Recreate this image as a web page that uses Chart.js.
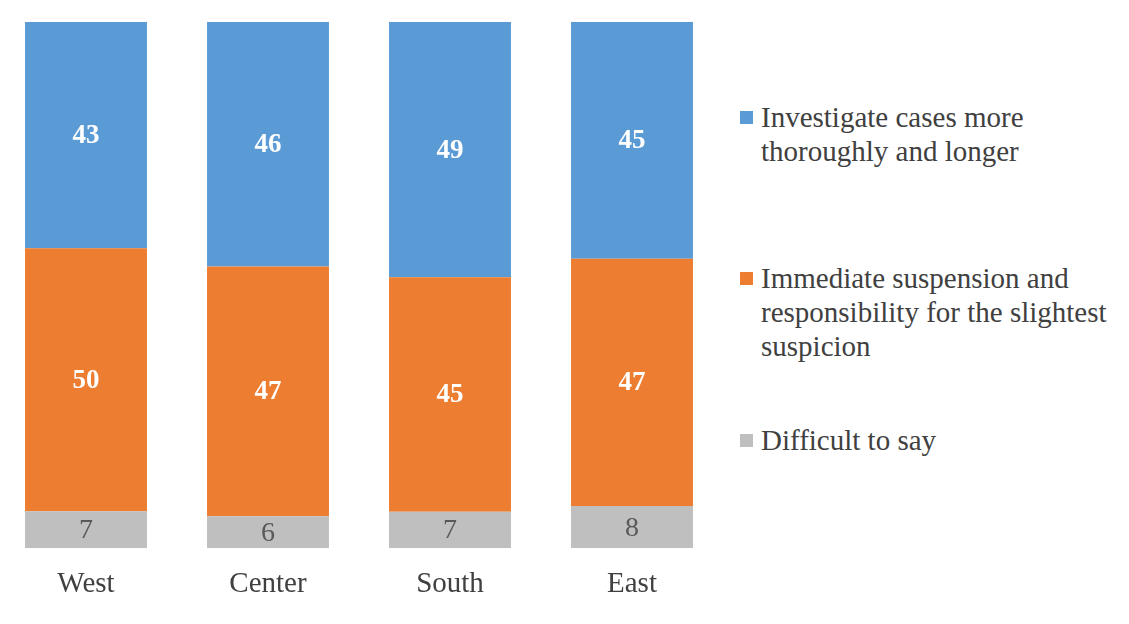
<!DOCTYPE html>
<html>
<head>
<meta charset="utf-8">
<script src="https://cdn.jsdelivr.net/npm/chart.js@4.4.0/dist/chart.umd.min.js"></script>
<style>
    body { margin: 0; background: #fff; width: 1129px; height: 624px; overflow: hidden; position: relative; }
    #chart-wrap { position: absolute; left: -5px; top: 0; width: 728px; height: 624px; }
    #legend { position: absolute; left: 740px; top: 0; width: 389px; font-family: "Liberation Serif", "Times New Roman", serif; font-size: 29px; line-height: 34px; color: #404040; }
    .legend-item { position: absolute; left: 0; width: 385px; }
    .legend-item .box { position: absolute; left: 0; top: 11px; width: 13px; height: 13px; }
    .legend-item .txt { margin-left: 21px; }
</style>
</head>
<body>
<div id="chart-wrap"><canvas id="chart"></canvas></div>
<div id="legend"></div>
<script>
const regions = ['West', 'Center', 'South', 'East'];
const difficult = [7, 6, 7, 8];
const immediate = [50, 47, 45, 47];
const investigate = [43, 46, 49, 45];

const seriesNames = [
    'Investigate cases more thoroughly and longer',
    'Immediate suspension and responsibility for the slightest suspicion',
    'Difficult to say'
];
const colors = ['#5B9BD5', '#ED7D31', '#BFBFBF'];
const legendTops = [100, 261, 423];

// 100% stacked: each bar normalised to its own total
const totals = regions.map((r, i) => difficult[i] + immediate[i] + investigate[i]);
const share = arr => arr.map((v, i) => v / totals[i] * 100);

const raw = [difficult, immediate, investigate];

const labelPlugin = {
    id: 'segmentLabels',
    afterDatasetsDraw(chart) {
        const ctx = chart.ctx;
        ctx.save();
        ctx.textAlign = 'center';
        ctx.textBaseline = 'middle';
        chart.data.datasets.forEach((ds, di) => {
            const meta = chart.getDatasetMeta(di);
            meta.data.forEach((bar, i) => {
                const y = (bar.y + bar.base) / 2;
                if (di === 0) {
                    ctx.fillStyle = '#595959';
                    ctx.font = '28px "Liberation Serif", serif';
                } else {
                    ctx.fillStyle = '#ffffff';
                    ctx.font = 'bold 27px "Liberation Serif", serif';
                }
                ctx.fillText(raw[di][i], bar.x, y + 1);
            });
        });
        ctx.restore();
    }
};

new Chart(document.getElementById('chart'), {
    type: 'bar',
    data: {
        labels: regions,
        datasets: [
            { label: seriesNames[2], data: share(difficult), backgroundColor: colors[2] },
            { label: seriesNames[1], data: share(immediate), backgroundColor: colors[1] },
            { label: seriesNames[0], data: share(investigate), backgroundColor: colors[0] }
        ]
    },
    options: {
        responsive: true,
        maintainAspectRatio: false,
        animation: false,
        layout: { padding: { top: 22, bottom: 3 } },
        datasets: { bar: { categoryPercentage: 1, barPercentage: 0.67, borderWidth: 0 } },
        plugins: { legend: { display: false }, tooltip: { enabled: false } },
        scales: {
            x: {
                stacked: true,
                grid: { display: false, drawTicks: false },
                border: { display: false },
                ticks: { color: '#404040', padding: 19, font: { family: '"Liberation Serif", serif', size: 29 } }
            },
            y: {
                stacked: true,
                display: false,
                min: 0,
                max: 100
            }
        }
    },
    plugins: [labelPlugin]
});

// legend built from the same series
const legend = document.getElementById('legend');
seriesNames.forEach((name, i) => {
    const item = document.createElement('div');
    item.className = 'legend-item';
    item.style.top = legendTops[i] + 'px';
    item.innerHTML = `<span class="box" style="background:${colors[i]}"></span><div class="txt">${name}</div>`;
    legend.appendChild(item);
});
</script>
</body>
</html>
